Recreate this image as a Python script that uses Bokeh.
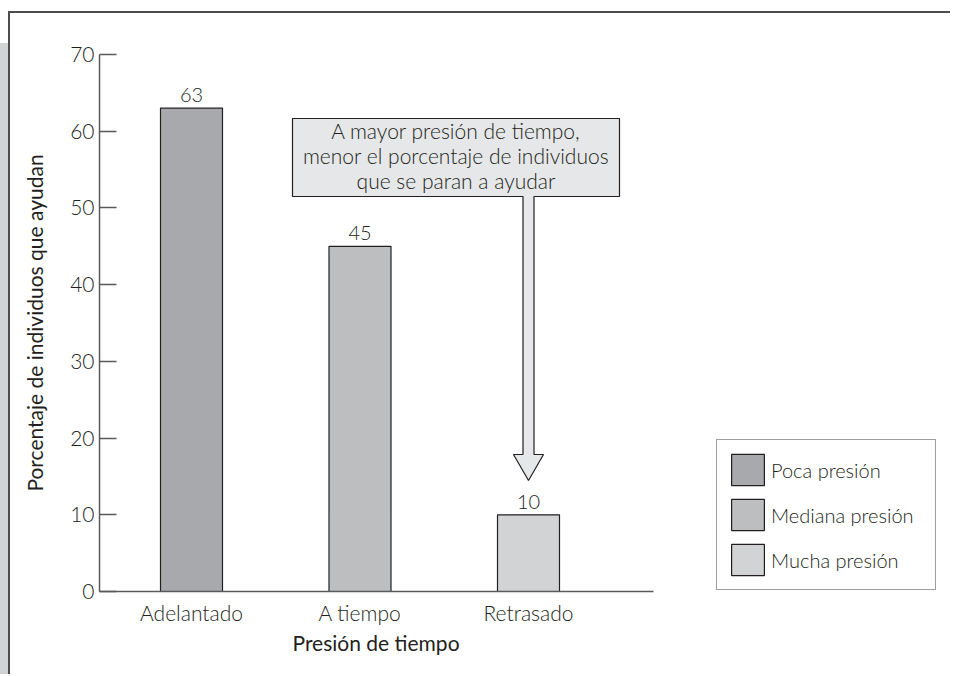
from bokeh.plotting import figure
from bokeh.models import ColumnDataSource, Legend, LegendItem, Range1d, FixedTicker, Title
from bokeh.embed import file_html
from bokeh.resources import INLINE
from bokeh.core.properties import value

# ---------------- data ----------------
categories = ["Adelantado", "A tiempo", "Retrasado"]
percent_helping = [63, 45, 10]
pressure_levels = ["Poca presión", "Mediana presión", "Mucha presión"]
bar_colors = ["#a7a9ac", "#bcbec0", "#d1d3d4"]
y_ticks = [0, 10, 20, 30, 40, 50, 60, 70]
callout_lines = ["A mayor presión de tiempo,",
                 "menor el porcentaje de individuos",
                 "que se paran a ayudar"]
x_title = "Presión de tiempo"
y_title = "Porcentaje de individuos que ayudan"

# ---------------- layout (pixels) ----------------
W, H = 942, 663
CANVAS_X0, CANVAS_Y0 = 10, 13          # page position of the canvas origin
AXIS_X, AXIS_Y = 99, 591               # page position of the axes corner
FRAME_TOP = 54                         # page position of the frame's top edge
X_AXIS_RIGHT = 653                     # page position where the x axis line ends
PX_PER_CAT = 168.5
X_START = 0.454
X_END = X_START + (CANVAS_X0 + W - AXIS_X) / PX_PER_CAT
Y_END = y_ticks[-1]
PX_PER_PCT = (AXIS_Y - FRAME_TOP) / Y_END


def dx(page_x):
    return X_START + (page_x - AXIS_X) / PX_PER_CAT


def dy(page_y):
    return (AXIS_Y - page_y) / PX_PER_PCT


LIGHT = "Lato Light"
TEXT_GRAY = "#231f20"
INK = "#231f20"
LINE = "#58595b"

xs = [i + 1 for i in range(len(categories))]
src = ColumnDataSource(dict(
    x=xs, top=percent_helping, color=bar_colors, level=pressure_levels,
    label=[str(v) for v in percent_helping],
))

p = figure(width=W, height=H,
           x_range=Range1d(X_START, X_END), y_range=Range1d(0, Y_END),
           output_backend="svg", toolbar_location=None, tools="",
           min_border=0,
           min_border_left=AXIS_X - CANVAS_X0,
           min_border_bottom=H - (AXIS_Y - CANVAS_Y0),
           min_border_top=FRAME_TOP - CANVAS_Y0,
           min_border_right=0)
p.styles = {"border-top": "2px solid #4d4d4d", "border-left": "2px solid #4d4d4d",
            "margin-left": "8px", "margin-top": "11px",
            "box-shadow": "-25px 16px 0 -16px #d1d3d4"}
p.outline_line_color = None
p.xgrid.visible = False
p.ygrid.visible = False
p.background_fill_color = "white"
p.border_fill_color = "white"

# bars
bars = p.vbar(x="x", top="top", width=62 / PX_PER_CAT, fill_color="color",
              line_color=INK, line_width=1.2, source=src)

# value labels
p.text(x="x", y="top", text="label", source=src, y_offset=-6,
       text_align="center", text_baseline="bottom", text_font=value(LIGHT),
       text_font_size="20px", text_color=TEXT_GRAY)

# callout box with arrow towards the last bar
tx = xs[-1]
L, R, T, B = dx(292), dx(619), dy(118), dy(196)
sw = 5.5 / PX_PER_CAT
hw = 15 / PX_PER_CAT
head_top, tip = dy(454), dy(480)
p.patch(x=[L, R, R, tx + sw, tx + sw, tx + hw, tx, tx - hw, tx - sw, tx - sw, L],
        y=[T, T, B, B, head_top, head_top, tip, head_top, head_top, B, B],
        fill_color="#e6e7e8", line_color=INK, line_width=1.2)
cy = dy(155)
line_gap = 25 / PX_PER_PCT
p.text(x=[(L + R) / 2] * 3, y=[cy + line_gap, cy, cy - line_gap], text=callout_lines,
       text_align="center", text_baseline="middle", text_font=value(LIGHT),
       text_font_size="21px", text_color=TEXT_GRAY)

# axes
p.xaxis.ticker = FixedTicker(ticks=xs)
p.xaxis.major_label_overrides = {x: c for x, c in zip(xs, categories)}
p.xaxis.bounds = (X_START, dx(X_AXIS_RIGHT))
p.xaxis.major_tick_in = 0
p.xaxis.major_tick_out = 0
p.xaxis.minor_tick_line_color = None
p.xaxis.major_label_standoff = 8

p.yaxis.ticker = FixedTicker(ticks=y_ticks)
p.yaxis.major_tick_in = 17
p.yaxis.major_tick_out = 0
p.yaxis.minor_tick_line_color = None
p.yaxis.major_label_standoff = 5
p.yaxis.axis_label = y_title
p.yaxis.axis_label_standoff = 20

for ax in (p.xaxis[0], p.yaxis[0]):
    ax.axis_line_color = LINE
    ax.axis_line_width = 1.5
    ax.major_tick_line_color = LINE
    ax.major_tick_line_width = 1.5
    ax.major_label_text_font = LIGHT
    ax.major_label_text_font_size = "21px"
    ax.major_label_text_color = TEXT_GRAY
    ax.axis_label_text_font = "Lato"
    ax.axis_label_text_font_size = "21px"
    ax.axis_label_text_font_style = "normal"
    ax.axis_label_text_color = INK

# x-axis title, centred under the drawn part of the axis
x_title_obj = Title(text=x_title, align="left", offset=(X_AXIS_RIGHT - AXIS_X) / 2 - 84,
                    text_font="Lato", text_font_size="21px", text_font_style="normal",
                    text_color=INK, standoff=0)
p.add_layout(x_title_obj, "below")

legend = Legend(items=[LegendItem(label=lvl, renderers=[bars], index=i)
                       for i, lvl in enumerate(pressure_levels)],
                location=(716 - AXIS_X, AXIS_Y - 590))
legend.border_line_color = "#414042"
legend.border_line_width = 1.5
legend.background_fill_color = "white"
legend.background_fill_alpha = 1
legend.padding = 10
legend.spacing = 6
legend.margin = 0
legend.glyph_width = 41
legend.glyph_height = 39
legend.label_standoff = 3
legend.label_width = 154
legend.label_text_font = LIGHT
legend.label_text_font_size = "20px"
legend.label_text_color = TEXT_GRAY
p.add_layout(legend, "center")

open("out.html", "w").write(file_html(p, INLINE))
